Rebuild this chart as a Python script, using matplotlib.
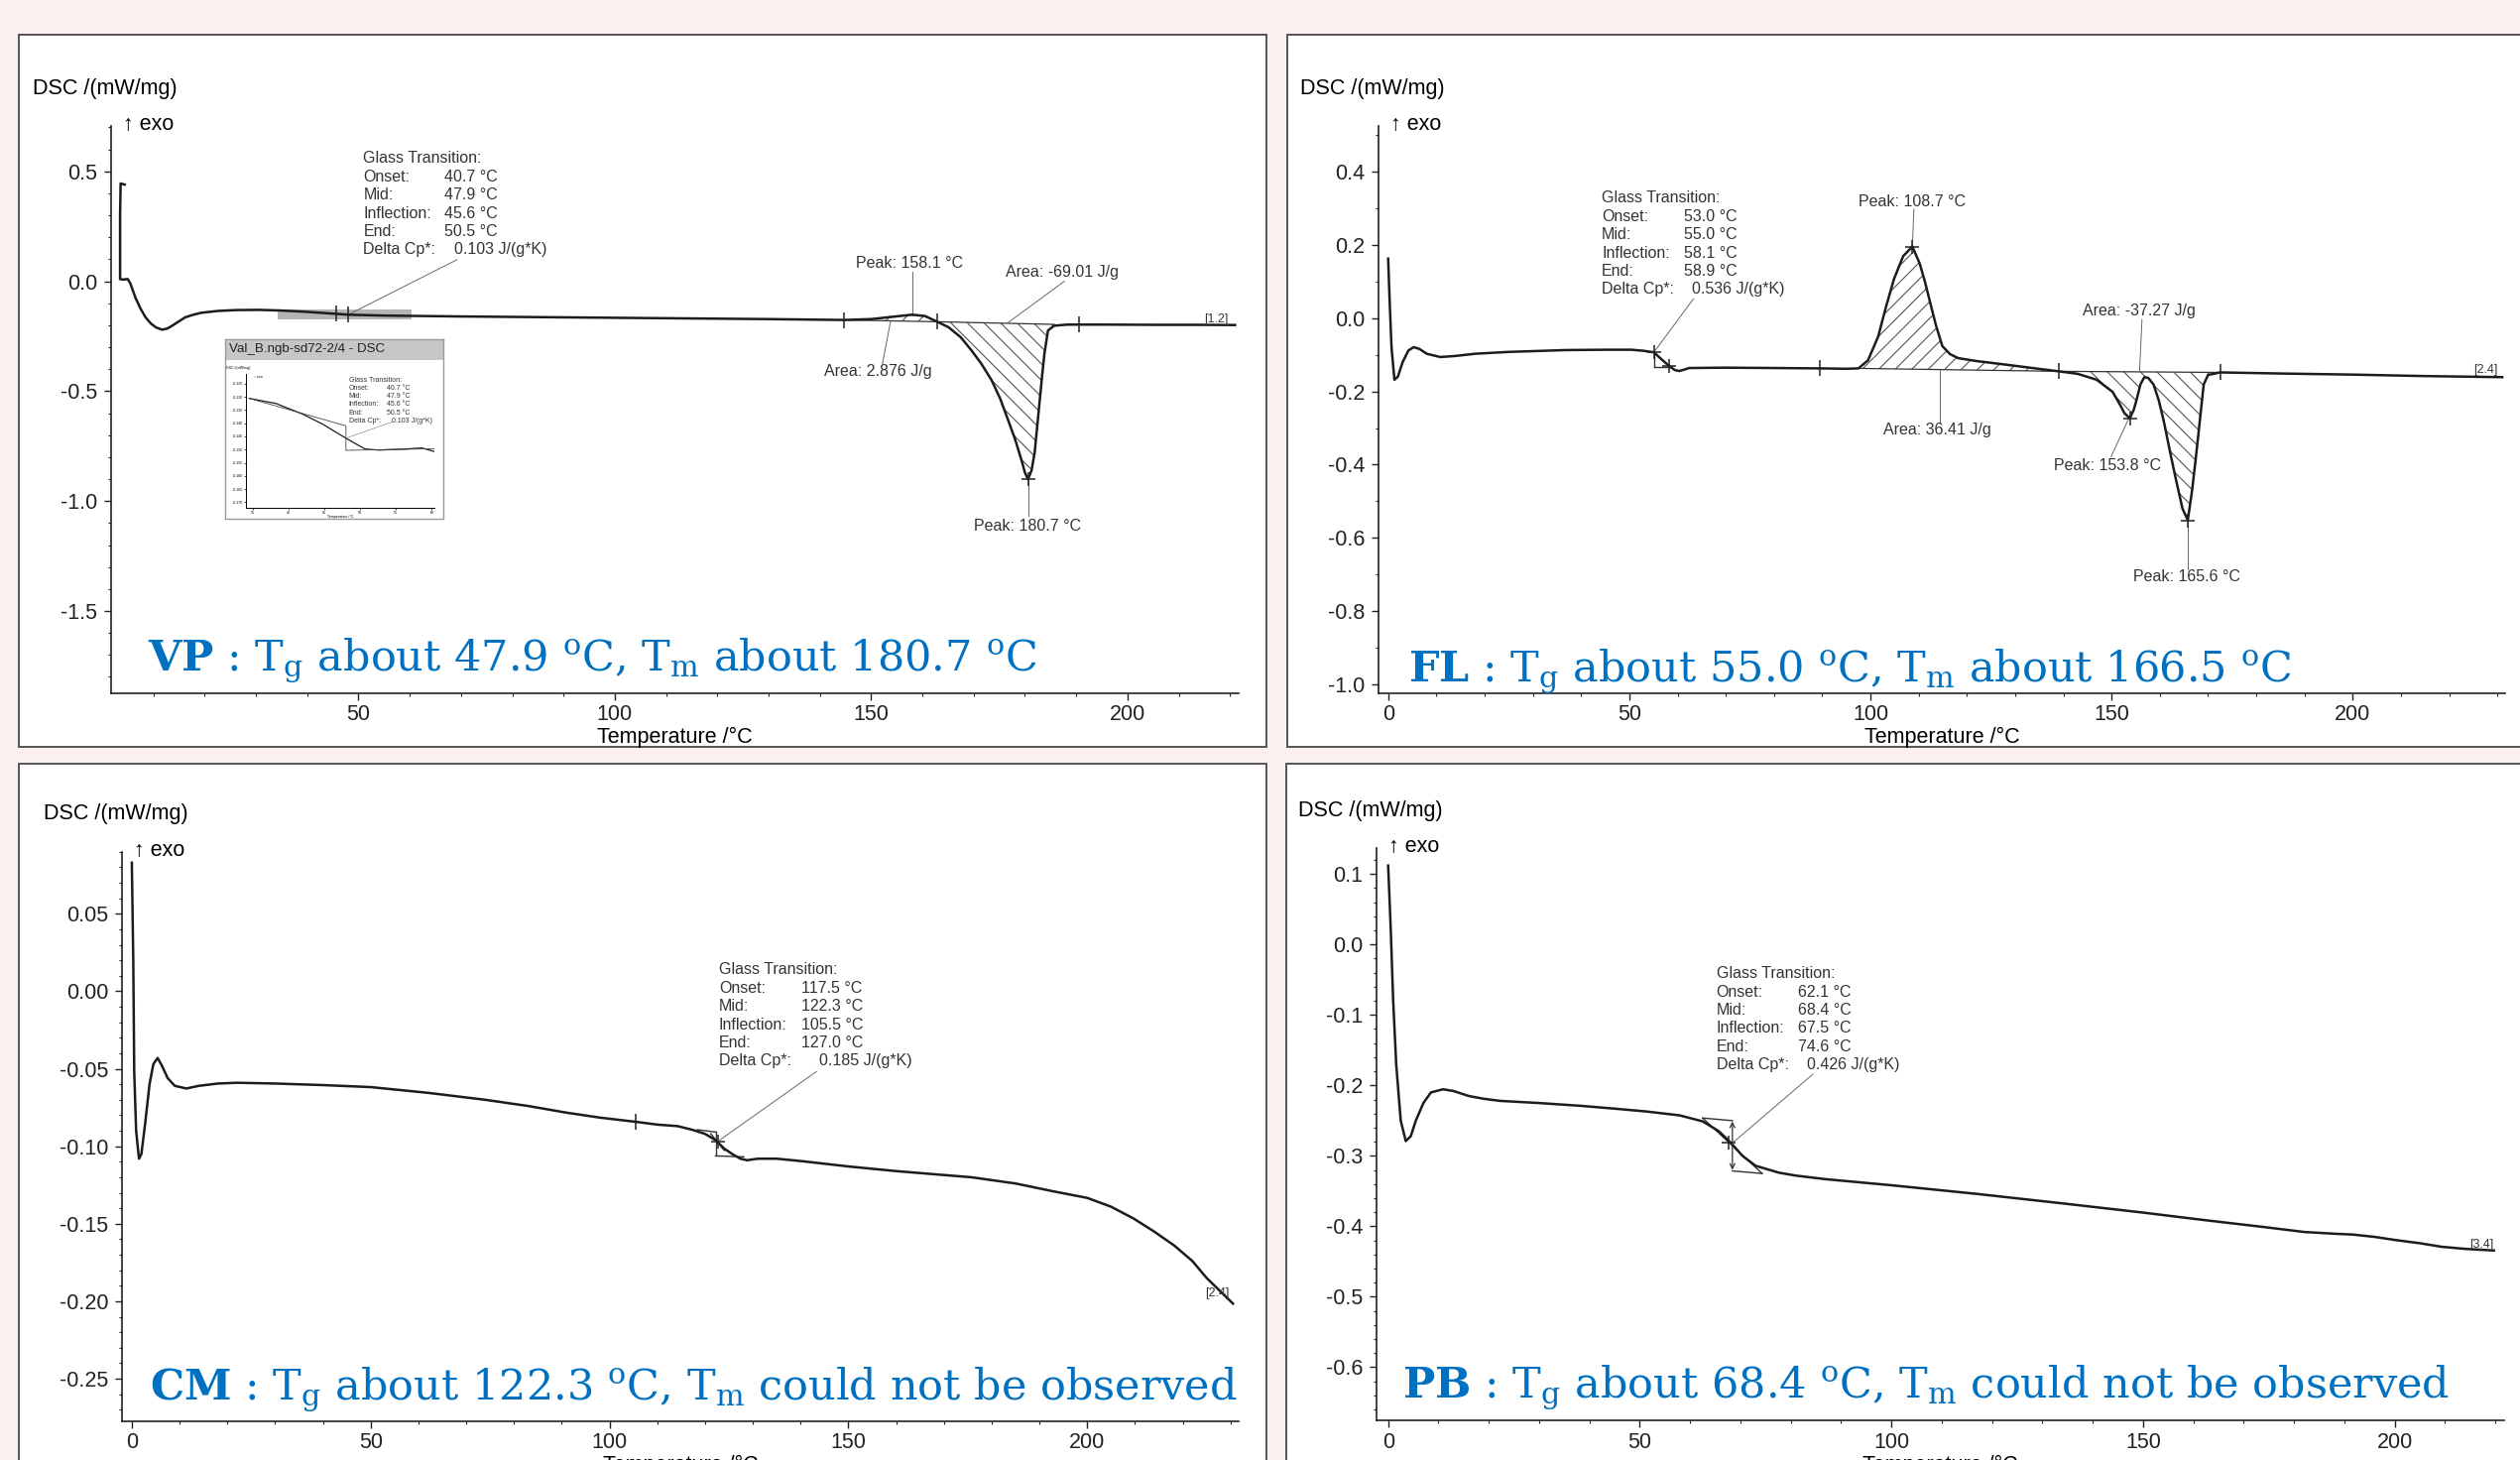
"""
DSC thermograms of the four polymers (VP, FL, CM, PB), 2x2 panel figure
"""
import numpy as np
import matplotlib.pyplot as plt
from matplotlib.patches import Rectangle
from matplotlib.ticker import MultipleLocator, FormatStrFormatter
from matplotlib.transforms import offset_copy

plt.rcParams['font.family'] = ['Liberation Sans', 'DejaVu Sans']
plt.rcParams['mathtext.fontset'] = 'dejavuserif'
plt.rcParams['axes.unicode_minus'] = False
plt.rcParams['hatch.linewidth'] = 0.8

W, H = 2541, 1472

# ---------------- values ----------------

# VP
vp_temp = [4.4, 3.6, 3.5, 3.5, 4.0, 5.0, 5.5, 6.5, 7.5, 8.5, 9.5, 10.5, 11.7, 12.7,
           13.6, 15.0, 16.2, 17.8, 19.4, 22.5, 26.0, 30.4, 35.0, 40.0, 45.6, 48.0,
           55.0, 70.0, 90.0, 110.0, 130.0, 144.7, 150.0, 154.0, 158.0, 160.5, 162.9,
           165.1, 167.5, 169.6, 171.5, 173.5, 175.2, 176.7, 178.1, 179.3, 180.0,
           180.6, 181.3, 181.9, 182.4, 182.9, 183.4, 183.8, 184.5, 185.7, 188.3,
           195.0, 205.0, 213.0, 221.0]
vp_dsc = [0.44, 0.445, 0.30, 0.01, 0.008, 0.01, -0.01, -0.075, -0.125, -0.165, -0.192,
          -0.21, -0.22, -0.215, -0.203, -0.182, -0.164, -0.152, -0.143, -0.135, -0.131,
          -0.130, -0.133, -0.139, -0.148, -0.152, -0.156, -0.160, -0.164, -0.168,
          -0.172, -0.176, -0.172, -0.162, -0.152, -0.158, -0.184, -0.209, -0.255,
          -0.315, -0.375, -0.45, -0.535, -0.63, -0.72, -0.811, -0.87, -0.901, -0.86,
          -0.78, -0.66, -0.54, -0.42, -0.33, -0.224, -0.202, -0.197, -0.197, -0.198,
          -0.198, -0.199]
vp_gt = ["40.7 °C", "47.9 °C", "45.6 °C", "50.5 °C", "0.103 J/(g*K)"]
vp_summary = r"$\mathbf{VP}$ : T$_\mathrm{g}$ about 47.9 $^\mathrm{o}$C, T$_\mathrm{m}$ about 180.7 $^\mathrm{o}$C"

# zoomed glass transition shown in the small window of the VP panel
inset_temp = [34.5, 38.2, 41.9, 44.7, 48.0, 49.35, 50.7, 52.6, 56.3, 58.6, 60.3]
inset_dsc = [-0.1306, -0.1325, -0.1365, -0.1403, -0.1457, -0.1478, -0.1498, -0.1502,
             -0.1498, -0.1494, -0.1507]
inset_title = "Val_B.ngb-sd72-2/4 - DSC"

# FL
fl_temp = [0.0, 0.3, 0.7, 1.3, 2.0, 3.0, 4.2, 5.3, 6.5, 8.0, 10.8, 14.0, 18.0, 25.0,
           36.7, 45.0, 50.4, 53.0, 55.1, 56.5, 58.3, 59.5, 60.4, 61.5, 62.4, 70.0, 80.0,
           89.5, 95.0, 97.5, 99.5, 101.6, 103.2, 104.9, 106.8, 108.7, 110.2, 111.3,
           112.4, 113.6, 114.9, 116.5, 118.2, 122.0, 127.0, 133.0, 139.0, 143.0, 146.9,
           150.2, 151.7, 152.7, 153.8, 154.6, 155.1, 156.0, 156.8, 157.6, 158.7, 159.8,
           160.9, 162.2, 163.4, 164.7, 165.8, 166.7, 167.5, 168.3, 169.1, 170.0, 172.5,
           185.0, 200.0, 215.0, 231.0]
fl_dsc = [0.163, 0.05, -0.08, -0.168, -0.16, -0.12, -0.088, -0.079, -0.084, -0.097,
          -0.106, -0.103, -0.097, -0.092, -0.087, -0.086, -0.086, -0.089, -0.093, -0.11,
          -0.131, -0.142, -0.144, -0.14, -0.136, -0.135, -0.136, -0.137, -0.138, -0.137,
          -0.115, -0.05, 0.03, 0.108, 0.17, 0.196, 0.15, 0.10, 0.042, -0.02, -0.076,
          -0.098, -0.109, -0.117, -0.125, -0.135, -0.145, -0.152, -0.168, -0.201, -0.235,
          -0.26, -0.273, -0.25, -0.227, -0.18, -0.161, -0.163, -0.181, -0.225, -0.286,
          -0.37, -0.444, -0.52, -0.552, -0.47, -0.378, -0.28, -0.181, -0.155, -0.148,
          -0.151, -0.154, -0.158, -0.161]
fl_gt = ["53.0 °C", "55.0 °C", "58.1 °C", "58.9 °C", "0.536 J/(g*K)"]
fl_summary = r"$\mathbf{FL}$ : T$_\mathrm{g}$ about 55.0 $^\mathrm{o}$C, T$_\mathrm{m}$ about 166.5 $^\mathrm{o}$C"

# CM
cm_temp = [0.0, 0.3, 0.5, 0.9, 1.5, 2.0, 2.8, 3.7, 4.5, 5.4, 6.3, 7.5, 9.0, 11.4, 14.0,
           18.0, 22.0, 30.0, 40.0, 50.0, 62.0, 74.0, 83.0, 91.0, 98.0, 105.5, 110.0,
           114.3, 117.5, 120.0, 122.2, 124.0, 125.7, 127.4, 128.8, 131.0, 135.0, 140.0,
           150.0, 160.0, 175.8, 185.0, 192.8, 200.0, 205.0, 209.7, 214.0, 218.2, 222.0,
           225.0, 228.0, 230.5]
cm_dsc = [0.083, 0.02, -0.052, -0.09, -0.108, -0.105, -0.085, -0.06, -0.047, -0.043,
          -0.048, -0.056, -0.061, -0.0627, -0.061, -0.0595, -0.059, -0.0595, -0.0605,
          -0.0618, -0.0655, -0.070, -0.074, -0.0783, -0.0815, -0.0842, -0.086, -0.087,
          -0.0895, -0.092, -0.096, -0.1015, -0.105, -0.108, -0.109, -0.108, -0.108,
          -0.1095, -0.113, -0.116, -0.120, -0.124, -0.129, -0.1333, -0.139, -0.1466,
          -0.155, -0.164, -0.174, -0.185, -0.194, -0.2015]
cm_gt = ["117.5 °C", "122.3 °C", "105.5 °C", "127.0 °C", "0.185 J/(g*K)"]
cm_summary = r"$\mathbf{CM}$ : T$_\mathrm{g}$ about 122.3 $^\mathrm{o}$C, T$_\mathrm{m}$ could not be observed"

# PB
pb_temp = [0.0, 0.5, 1.0, 1.6, 2.5, 3.5, 4.5, 5.5, 7.0, 8.5, 10.9, 13.0, 16.0, 19.0,
           22.3, 30.0, 38.3, 45.0, 51.3, 57.9, 62.5, 65.7, 68.1, 70.4, 73.0, 77.6, 81.0,
           86.8, 100.0, 117.0, 134.2, 150.0, 162.0, 174.0, 182.0, 188.0, 191.7, 196.0,
           200.0, 205.0, 209.3, 214.0, 219.7]
pb_dsc = [0.112, 0.025, -0.08, -0.17, -0.25, -0.279, -0.272, -0.25, -0.225, -0.21,
          -0.2055, -0.208, -0.215, -0.219, -0.222, -0.225, -0.229, -0.233, -0.237,
          -0.2425, -0.251, -0.265, -0.2815, -0.300, -0.314, -0.3238, -0.328, -0.333,
          -0.3417, -0.354, -0.3676, -0.3805, -0.391, -0.401, -0.408, -0.4105, -0.4117,
          -0.415, -0.4193, -0.424, -0.429, -0.432, -0.4343]
pb_gt = ["62.1 °C", "68.4 °C", "67.5 °C", "74.6 °C", "0.426 J/(g*K)"]
pb_summary = r"$\mathbf{PB}$ : T$_\mathrm{g}$ about 68.4 $^\mathrm{o}$C, T$_\mathrm{m}$ could not be observed"

gt_names = ["Glass Transition:", "Onset:", "Mid:", "Inflection:", "End:", "Delta Cp*:"]

TXT = '#333333'
LINE = '#1c1c1c'
BLUE = '#0070c0'

fig = plt.figure(figsize=(W / 100, H / 100), dpi=100)
fig.patch.set_facecolor('#fcefef')


def fx(x):
    return x / W


def fy(y):
    return 1 - y / H


def panel(l, t, r, b):
    """ white framed box behind each thermogram (pixel coords) """
    fig.add_artist(Rectangle((fx(l), fy(b)), (r - l) / W, (b - t) / H,
                             transform=fig.transFigure, facecolor='white',
                             edgecolor='#555555', linewidth=1.4, zorder=-5))


def make_axes(l, t, r, b, xlim, ylim, ymajor, yminor, yfmt):
    ax = fig.add_axes([fx(l), fy(b), (r - l) / W, (b - t) / H])
    ax.set_facecolor('none')
    ax.set_xlim(*xlim)
    ax.set_ylim(*ylim)
    for s in ['top', 'right']:
        ax.spines[s].set_visible(False)
    for s in ['left', 'bottom']:
        ax.spines[s].set_linewidth(1.2)
        ax.spines[s].set_color('#222222')
    ax.xaxis.set_major_locator(MultipleLocator(50))
    ax.xaxis.set_minor_locator(MultipleLocator(10))
    ax.xaxis.set_major_formatter(FormatStrFormatter('%d'))
    ax.yaxis.set_major_locator(MultipleLocator(ymajor))
    ax.yaxis.set_minor_locator(MultipleLocator(yminor))
    ax.yaxis.set_major_formatter(FormatStrFormatter(yfmt))
    ax.tick_params(which='major', length=5, width=1, labelsize=15.5, colors='#222222')
    ax.tick_params(which='minor', length=2.5, width=0.8, colors='#222222')
    ax.tick_params(axis='x', which='major', pad=3)
    ax.tick_params(axis='y', which='major', pad=5)
    ax.set_xlabel('Temperature /°C', fontsize=15.5, labelpad=1.5)
    # y title and exo arrow above the axis
    fig.text(fx(l - 79), fy(t - 38), 'DSC /(mW/mg)', fontsize=15.5, va='center')
    fig.text(fx(l + 12), fy(t - 1), '↑ exo', fontsize=15.5, va='center')
    return ax


def curve(ax, temp, dsc):
    ax.plot(temp, dsc, color=LINE, lw=1.8, solid_joinstyle='round', zorder=3)


def hatch_area(ax, temp, dsc, t0, b0, t1, b1, pattern):
    t = np.array(temp)
    d = np.array(dsc)
    m = (t >= t0) & (t <= t1)
    base = np.interp(t[m], [t0, t1], [b0, b1])
    ax.fill_between(t[m], d[m], base, facecolor='none', edgecolor='#555555',
                    hatch=pattern, linewidth=0, zorder=1)
    ax.plot([t0, t1], [b0, b1], color='#333333', lw=0.9, zorder=2)


def marks(ax, pts, kind='+'):
    xs = [p[0] for p in pts]
    ys = [p[1] for p in pts]
    ms = 10 if kind == '+' else 12
    ax.plot(xs, ys, ls='none', marker=kind, ms=ms, mew=1.1, color='#222222', zorder=4)


def leaders(ax, segs, lw=0.7, color='#666666'):
    for x0, y0, x1, y1 in segs:
        ax.plot([x0, x1], [y0, y1], color=color, lw=lw, zorder=2)


def gt_block(ax, x_lab, x_val, x_dcp, y_top, values, size=11.5, step=18.4):
    """ 'Glass Transition:' result table, one row every `step` pixels """
    for i, name in enumerate(gt_names):
        tr = offset_copy(ax.transData, fig=fig, x=0, y=-i * step, units='dots')
        ax.text(x_lab, y_top, name, transform=tr, fontsize=size, color=TXT, va='center')
        if i > 0:
            xv = x_dcp if i == 5 else x_val
            ax.text(xv, y_top, values[i - 1], transform=tr, fontsize=size,
                    color=TXT, va='center')


def note(ax, x, y, s, size=11.5):
    ax.text(x, y, s, fontsize=size, color=TXT, va='center', ha='left')


panel(19, 35, 1277, 753)
panel(1298, 35, 2580, 753)
panel(19, 770, 1277, 1500)
panel(1297, 770, 2580, 1500)

################################################################
# VP
################################################################
ax = make_axes(112, 127, 1249, 699, (1.74, 221.7), (-1.8745, 0.7067), 0.5, 0.1, '%.1f')
ax.add_patch(Rectangle((34.2, -0.171), 26.1, 0.044, facecolor='#b4b4b4',
                       edgecolor='none', zorder=1))
hatch_area(ax, vp_temp, vp_dsc, 144.7, -0.176, 162.9, -0.184, '//')
hatch_area(ax, vp_temp, vp_dsc, 162.9, -0.184, 185.7, -0.196, '\\\\')
curve(ax, vp_temp, vp_dsc)
marks(ax, [(45.6, -0.148), (48.0, -0.152), (144.7, -0.176), (162.9, -0.184),
           (190.6, -0.197)], '|')
marks(ax, [(180.6, -0.901)])
gt_block(ax, 50.97, 66.7, 68.7, 0.558, vp_gt)
leaders(ax, [(69.2, 0.098, 48.0, -0.152), (158.0, 0.043, 158.0, -0.153),
             (187.7, 0.0, 176.6, -0.19), (152.2, -0.376, 153.8, -0.181),
             (180.6, -0.905, 180.6, -1.067)])
note(ax, 147.1, 0.08, "Peak: 158.1 °C")
note(ax, 176.2, 0.04, "Area: -69.01 J/g")
note(ax, 140.8, -0.411, "Area: 2.876 J/g")
note(ax, 170.0, -1.115, "Peak: 180.7 °C")
note(ax, 214.9, -0.171, "[1.2]", size=9)

# small window with the zoomed glass transition
frame = fig.add_axes([fx(226.7), fy(523.3), (446.7 - 226.7) / W, (523.3 - 341.7) / H])
frame.set_xticks([])
frame.set_yticks([])
frame.set_xlim(0, 1)
frame.set_ylim(0, 1)
for s in frame.spines.values():
    s.set_color('#9a9a9a')
    s.set_linewidth(1)
frame.add_patch(Rectangle((0, 1 - 21.6 / 181.6), 1, 21.6 / 181.6, facecolor='#c6c6c6',
                          edgecolor='none'))
frame.text(4.5 / 220, 1 - 10.8 / 181.6, inset_title, fontsize=9.6, color='#222222',
           va='center')
frame.text(1.8 / 220, 1 - 29 / 181.6, 'DSC /(mW/mg)', fontsize=2.6, va='center')

ins = fig.add_axes([fx(248.3), fy(511.7), (438.3 - 248.3) / W, (511.7 - 376.7) / H])
ins.set_facecolor('none')
ins.set_xlim(34.07, 60.4)
ins.set_ylim(-0.172, -0.1212)
for s in ['top', 'right']:
    ins.spines[s].set_visible(False)
for s in ['left', 'bottom']:
    ins.spines[s].set_linewidth(0.7)
ins.xaxis.set_major_locator(MultipleLocator(5))
ins.yaxis.set_major_locator(MultipleLocator(0.005))
ins.yaxis.set_major_formatter(FormatStrFormatter('%.3f'))
ins.tick_params(length=1.5, width=0.5, labelsize=2.6, pad=1)
ins.set_xlabel('Temperature /°C', fontsize=2.6, labelpad=0)
ins.plot(inset_temp, inset_dsc, color=LINE, lw=0.9)
ins.plot([34.5, 48.0, 48.0, 60.3], [-0.1306, -0.141, -0.1503, -0.1497], color='#444444',
         lw=0.6)
ins.plot([48.0, 54.5], [-0.1457, -0.1395], color='#777777', lw=0.4)
ins.text(35.2, -0.1224, '↑ exo', fontsize=2.6, va='center')
for i, name in enumerate(gt_names):
    y = -0.1236 - i * 0.00312
    ins.text(48.4, y, name, fontsize=5, color=TXT, va='center')
    if i > 0:
        ins.text(54.4 if i == 5 else 53.75, y, vp_gt[i - 1], fontsize=5, color=TXT,
                 va='center')

################################################################
# FL
################################################################
ax = make_axes(1390, 127, 2526, 698.5, (-2.0, 231.6), (-1.0236, 0.5255), 0.2, 0.1, '%.1f')
hatch_area(ax, fl_temp, fl_dsc, 97.5, -0.137, 139.0, -0.145, '//')
hatch_area(ax, fl_temp, fl_dsc, 139.0, -0.145, 172.5, -0.148, '\\\\')
curve(ax, fl_temp, fl_dsc)
leaders(ax, [(55.1, -0.093, 55.1, -0.133), (55.1, -0.133, 58.3, -0.133)],
        lw=1.0, color='#333333')
marks(ax, [(89.5, -0.137), (139.0, -0.145), (172.5, -0.148)], '|')
marks(ax, [(108.7, 0.196), (153.8, -0.273), (165.8, -0.552), (55.1, -0.093),
           (58.3, -0.131)])
gt_block(ax, 44.3, 61.3, 63.0, 0.328, fl_gt)
leaders(ax, [(63.3, 0.053, 55.1, -0.093), (109.0, 0.298, 108.7, 0.196),
             (156.3, -0.004, 155.8, -0.146), (114.3, -0.284, 114.3, -0.142),
             (149.9, -0.378, 153.6, -0.273), (165.8, -0.553, 165.8, -0.687)])
note(ax, 97.5, 0.318, "Peak: 108.7 °C")
note(ax, 144.0, 0.019, "Area: -37.27 J/g")
note(ax, 102.7, -0.306, "Area: 36.41 J/g")
note(ax, 138.0, -0.402, "Peak: 153.8 °C")
note(ax, 154.5, -0.707, "Peak: 165.6 °C")
note(ax, 225.0, -0.142, "[2.4]", size=9)

################################################################
# CM
################################################################
ax = make_axes(123.3, 858.7, 1249, 1432.9, (-2.0, 231.7), (-0.2774, 0.0901), 0.05, 0.01,
               '%.2f')
curve(ax, cm_temp, cm_dsc)
leaders(ax, [(118.4, -0.0893, 122.2, -0.0908), (122.2, -0.0908, 122.2, -0.1060),
             (122.2, -0.1062, 128.1, -0.1068), (121.2, -0.0919, 124.0, -0.1026)],
        lw=1.0, color='#333333')
marks(ax, [(105.5, -0.0842)], '|')
marks(ax, [(122.7, -0.0968)])
gt_block(ax, 122.9, 140.2, 143.9, 0.0138, cm_gt)
leaders(ax, [(143.3, -0.0518, 122.7, -0.0968)])
note(ax, 224.6, -0.195, "[2.4]", size=9)

################################################################
# PB
################################################################
ax = make_axes(1388.3, 855, 2524.8, 1432.4, (-2.25, 221.7), (-0.6759, 0.1369), 0.1, 0.02,
               '%.1f')
curve(ax, pb_temp, pb_dsc)
leaders(ax, [(62.5, -0.2463, 68.4, -0.250), (68.4, -0.3214, 74.3, -0.325),
             (62.5, -0.2463, 74.3, -0.325)], lw=1.0, color='#333333')
ax.annotate('', xy=(68.4, -0.251), xytext=(68.4, -0.320),
            arrowprops=dict(arrowstyle='<->', lw=0.9, color='#333333', mutation_scale=9,
                            shrinkA=0, shrinkB=0))
marks(ax, [(67.7, -0.2815)])
gt_block(ax, 65.2, 81.5, 83.2, -0.0415, pb_gt)
leaders(ax, [(84.4, -0.184, 68.7, -0.28)])
note(ax, 214.9, -0.4255, "[3.4]", size=9)

# blue summary lines
for x, y, s in [(149, 675, vp_summary), (1420, 686, fl_summary),
                (151, 1410, cm_summary), (1414, 1408, pb_summary)]:
    fig.text(fx(x), fy(y), s, fontsize=31, color=BLUE, fontfamily='DejaVu Serif',
             va='baseline', ha='left')

fig.savefig('out.png', dpi=100, facecolor=fig.get_facecolor())
